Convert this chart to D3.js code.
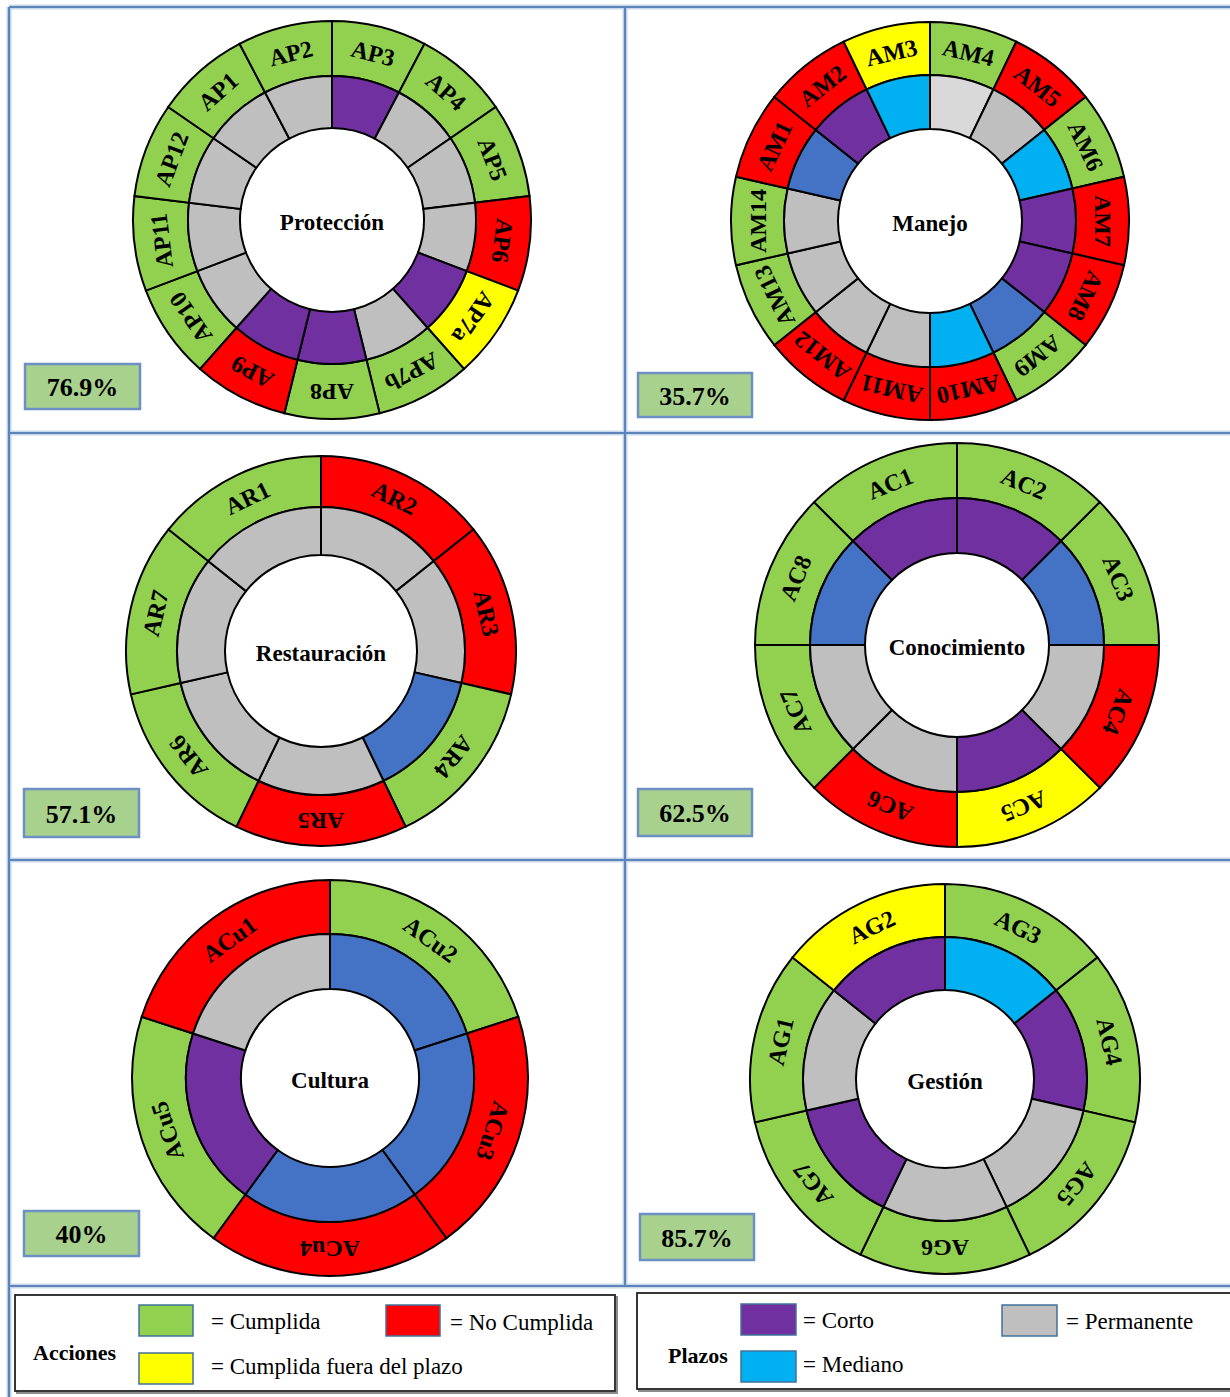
<!DOCTYPE html>
<html><head><meta charset="utf-8">
<script src="https://cdn.jsdelivr.net/npm/d3@7"></script>
<style>body{margin:0;background:#fff}svg{display:block}</style>
</head><body>
<svg id="c" width="1230" height="1397"></svg>
<script>
// ---------------- DATA ----------------
const panelNames = ["Protección","Manejo","Restauración","Conocimiento","Cultura","Gestión"];
const percentLabels = ["76.9%","35.7%","57.1%","62.5%","40%","85.7%"];

// actions listed clockwise starting at 12 o'clock
const proteccionActions = ["AP3","AP4","AP5","AP6","AP7a","AP7b","AP8","AP9","AP10","AP11","AP12","AP1","AP2"];
const proteccionStatus  = ["Cumplida","Cumplida","Cumplida","No Cumplida","Cumplida fuera del plazo","Cumplida","Cumplida","No Cumplida","Cumplida","Cumplida","Cumplida","Cumplida","Cumplida"];
const proteccionTerm    = ["Corto","Permanente","Permanente","Permanente","Corto","Permanente","Corto","Corto","Permanente","Permanente","Permanente","Permanente","Permanente"];

const manejoActions = ["AM4","AM5","AM6","AM7","AM8","AM9","AM10","AM11","AM12","AM13","AM14","AM1","AM2","AM3"];
const manejoStatus  = ["Cumplida","No Cumplida","Cumplida","No Cumplida","No Cumplida","Cumplida","No Cumplida","No Cumplida","No Cumplida","Cumplida","Cumplida","No Cumplida","No Cumplida","Cumplida fuera del plazo"];
const manejoTerm    = ["Permanente claro","Permanente","Mediano","Corto","Corto","Largo","Mediano","Permanente","Permanente","Permanente","Permanente","Largo","Corto","Mediano"];

const restauracionActions = ["AR2","AR3","AR4","AR5","AR6","AR7","AR1"];
const restauracionStatus  = ["No Cumplida","No Cumplida","Cumplida","No Cumplida","Cumplida","Cumplida","Cumplida"];
const restauracionTerm    = ["Permanente","Permanente","Largo","Permanente","Permanente","Permanente","Permanente"];

const conocimientoActions = ["AC2","AC3","AC4","AC5","AC6","AC7","AC8","AC1"];
const conocimientoStatus  = ["Cumplida","Cumplida","No Cumplida","Cumplida fuera del plazo","No Cumplida","Cumplida","Cumplida","Cumplida"];
const conocimientoTerm    = ["Corto","Largo","Permanente","Corto","Permanente","Permanente","Largo","Corto"];

const culturaActions = ["ACu2","ACu3","ACu4","ACu5","ACu1"];
const culturaStatus  = ["Cumplida","No Cumplida","No Cumplida","Cumplida","No Cumplida"];
const culturaTerm    = ["Largo","Largo","Largo","Corto","Permanente"];

const gestionActions = ["AG3","AG4","AG5","AG6","AG7","AG1","AG2"];
const gestionStatus  = ["Cumplida","Cumplida","Cumplida","Cumplida","Cumplida","Cumplida","Cumplida fuera del plazo"];
const gestionTerm    = ["Mediano","Corto","Permanente","Permanente","Corto","Permanente","Corto"];

const legendActions = ["Cumplida","No Cumplida","Cumplida fuera del plazo"];
const legendTerms   = ["Corto","Mediano","Permanente"];

// ---------------- STYLE / LAYOUT ----------------
const statusColor = d3.scaleOrdinal()
  .domain(["Cumplida","No Cumplida","Cumplida fuera del plazo"])
  .range(["#92d050","#ff0000","#ffff00"]);
const termColor = d3.scaleOrdinal()
  .domain(["Corto","Mediano","Permanente","Largo","Permanente claro"])
  .range(["#7030a0","#00b0f0","#bfbfbf","#4472c4","#d9d9d9"]);

const panelData = [
  [proteccionActions, proteccionStatus, proteccionTerm],
  [manejoActions, manejoStatus, manejoTerm],
  [restauracionActions, restauracionStatus, restauracionTerm],
  [conocimientoActions, conocimientoStatus, conocimientoTerm],
  [culturaActions, culturaStatus, culturaTerm],
  [gestionActions, gestionStatus, gestionTerm]
];
const layout = [
  {cx:332, cy:220,  ro:199, rm:144, ri:92, box:[25,364,115,45]},
  {cx:930, cy:221,  ro:199, rm:146, ri:92, box:[638,373,114,44]},
  {cx:321, cy:651,  ro:195, rm:144, ri:96, box:[24,789,115,48]},
  {cx:957, cy:645,  ro:202, rm:147, ri:92, box:[638,789,114,47]},
  {cx:330, cy:1078, ro:198, rm:144, ri:89, box:[24,1211,115,45]},
  {cx:945, cy:1079, ro:195, rm:142, ri:89, box:[640,1214,114,46]}
];

const svg = d3.select("#c");
const SERIF = "'Liberation Serif','Times New Roman',serif";

// grid lines
const grid = svg.append("g");
const gridLines = [
  [9,7,1240,7],[9,433,1240,433],[9,860,1240,860],[9,1286,1240,1286],
  [9,7,9,1397],[625,7,625,1286]
];
grid.selectAll("line.halo").data(gridLines).join("line")
  .attr("x1",d=>d[0]).attr("y1",d=>d[1]).attr("x2",d=>d[2]).attr("y2",d=>d[3])
  .attr("stroke","#c9d7ea").attr("stroke-width",5);
grid.selectAll("line.main").data(gridLines).join("line")
  .attr("x1",d=>d[0]).attr("y1",d=>d[1]).attr("x2",d=>d[2]).attr("y2",d=>d[3])
  .attr("stroke","#5b84bb").attr("stroke-width",2.2);

const pie = d3.pie().value(1).sort(null).startAngle(0).endAngle(2*Math.PI);

panelData.forEach(([acts, stats, terms], i) => {
  const L = layout[i];
  const g = svg.append("g").attr("transform",`translate(${L.cx},${L.cy})`);
  const rows = acts.map((a,k)=>({action:a, status:stats[k], term:terms[k]}));
  const arcs = pie(rows);
  const outerArc = d3.arc().innerRadius(L.rm).outerRadius(L.ro);
  const innerArc = d3.arc().innerRadius(L.ri).outerRadius(L.rm);

  g.selectAll("path.outer").data(arcs).join("path")
    .attr("d",outerArc).attr("fill",d=>statusColor(d.data.status))
    .attr("stroke","#000").attr("stroke-width",2);
  g.selectAll("path.inner").data(arcs).join("path")
    .attr("d",innerArc).attr("fill",d=>termColor(d.data.term))
    .attr("stroke","#000").attr("stroke-width",2);

  const rl = (L.rm + L.ro)/2;
  g.selectAll("text.lbl").data(arcs).join("text")
    .attr("transform",d=>{
      const a = (d.startAngle + d.endAngle)/2 * 180/Math.PI;
      return `rotate(${a}) translate(0,${-rl})`;
    })
    .attr("text-anchor","middle").attr("dominant-baseline","central")
    .attr("font-family",SERIF).attr("font-weight","bold").attr("font-size",24)
    .attr("fill","#000")
    .text(d=>d.data.action);

  g.append("text").attr("x",0).attr("y",2)
    .attr("text-anchor","middle").attr("dominant-baseline","central")
    .attr("font-family",SERIF).attr("font-weight","bold").attr("font-size",23)
    .text(panelNames[i]);

  const [bx,by,bw,bh] = L.box;
  svg.append("rect").attr("x",bx).attr("y",by).attr("width",bw).attr("height",bh)
    .attr("fill","#a9d18e").attr("stroke","#6d8fc4").attr("stroke-width",2.5);
  svg.append("text").attr("x",bx+bw/2).attr("y",by+bh/2+1)
    .attr("text-anchor","middle").attr("dominant-baseline","central")
    .attr("font-family",SERIF).attr("font-weight","bold").attr("font-size",26)
    .text(percentLabels[i]);
});

// ---------------- LEGENDS ----------------
function legendBox(x,y,w,h){
  svg.append("rect").attr("x",x+2).attr("y",y+2).attr("width",w).attr("height",h)
    .attr("fill","none").attr("stroke","#8c8c8c").attr("stroke-width",2);
  svg.append("rect").attr("x",x).attr("y",y).attr("width",w).attr("height",h)
    .attr("fill","#fff").attr("stroke","#222").attr("stroke-width",1.8);
}
legendBox(15,1295,600,96);
legendBox(637,1293,620,96);

svg.append("text").attr("x",33).attr("y",1360)
  .attr("font-family",SERIF).attr("font-weight","bold").attr("font-size",22).text("Acciones");
svg.append("text").attr("x",668).attr("y",1363)
  .attr("font-family",SERIF).attr("font-weight","bold").attr("font-size",22).text("Plazos");

const actionPos = [[139,1305,211,1329],[386,1305,450,1330],[139,1353,211,1374]];
legendActions.forEach((k,i)=>{
  const p = actionPos[i];
  svg.append("rect").attr("x",p[0]).attr("y",p[1]).attr("width",54).attr("height",31)
    .attr("fill",statusColor(k)).attr("stroke","#41719c").attr("stroke-width",1.5);
  svg.append("text").attr("x",p[2]).attr("y",p[3])
    .attr("font-family",SERIF).attr("font-size",23).text("= " + k);
});
const termPos = [[741,1304,803,1328],[741,1351,803,1372],[1002,1305,1066,1329]];
legendTerms.forEach((k,i)=>{
  const p = termPos[i];
  svg.append("rect").attr("x",p[0]).attr("y",p[1]).attr("width",55).attr("height",31)
    .attr("fill",termColor(k)).attr("stroke","#41719c").attr("stroke-width",1.5);
  svg.append("text").attr("x",p[2]).attr("y",p[3])
    .attr("font-family",SERIF).attr("font-size",23).text("= " + k);
});
</script>
</body></html>
